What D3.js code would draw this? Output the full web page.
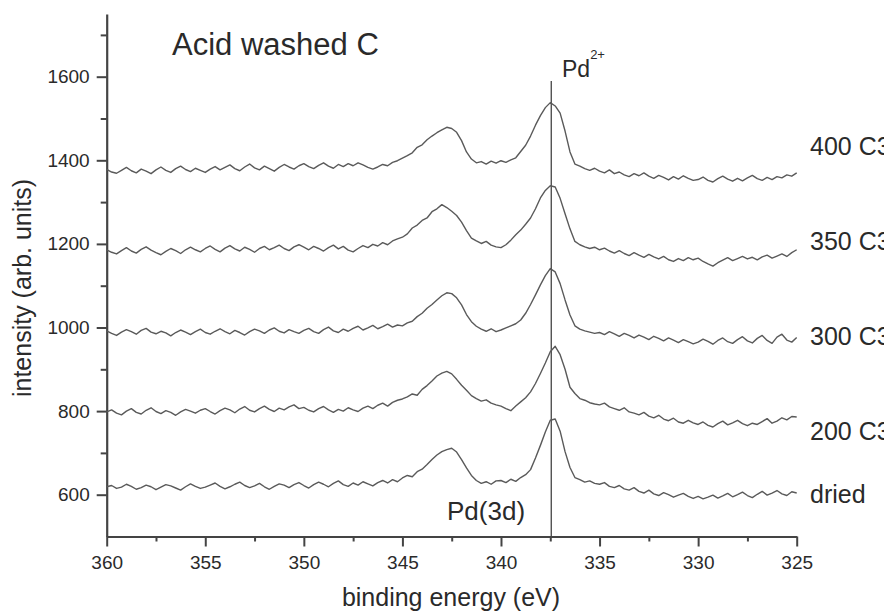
<!DOCTYPE html>
<html>
<head>
<meta charset="utf-8">
<script src="https://cdn.jsdelivr.net/npm/d3@7"></script>
<style>
  body { margin: 0; background: #fff; }
  text { font-family: "Liberation Sans", Arial, sans-serif; fill: #2a2a2a; }
</style>
</head>
<body>
<div id="chart"></div>
<script>
// binding energy grid, 360 -> 325 eV in 0.25 eV steps
var energies = d3.range(0, 141).map(i => 360 - i * 0.25);

// intensities, one row = 5 eV
var dried = [
  619, 622, 615, 618, 625, 620, 613, 617, 623, 619, 612, 618, 624, 621, 616, 611, 619, 626, 620, 615,
  618, 623, 628, 620, 614, 619, 625, 630, 622, 617, 621, 627, 619, 613, 620, 626, 623, 617, 624, 629,
  622, 616, 624, 630, 625, 619, 627, 633, 624, 620, 628, 623, 631, 626, 621, 629, 634, 628, 636, 631,
  640, 646, 643, 655, 661, 672, 684, 695, 703, 708, 711, 702, 684, 664, 646, 634, 627, 631, 625, 633,
  634, 629, 637, 632, 641, 648, 660, 688, 718, 750, 778, 781, 752, 703, 665, 641, 636, 630, 633, 627,
  625, 629, 620, 617, 622, 614, 611, 617, 608, 604, 611, 602, 598, 605, 600, 594, 599, 603, 596, 591,
  596, 590, 594, 599, 592, 597, 603, 595, 600, 606, 598, 593, 601, 608, 599, 604, 610, 602, 598, 607, 604
];
var c200 = [
  798, 803, 795, 791, 800, 806, 797, 793, 802, 808, 799, 794, 801, 797, 790, 798, 804, 800, 795, 802,
  806, 799, 793, 801, 807, 803, 796, 805, 811, 802, 798, 806, 812, 804, 799, 807, 803, 810, 815, 806,
  809, 802, 798, 806, 811, 803, 797, 804, 800, 808, 803, 799, 807, 812, 806, 814, 819, 812, 821, 826,
  829, 834, 841, 838, 852, 861, 872, 884, 891, 895, 889, 876, 862, 850, 837, 830, 824, 827, 819, 815,
  812, 806, 801, 812, 822, 832, 846, 866, 890, 915, 942, 955, 935, 900, 857, 842, 830, 826, 820, 817,
  815, 819, 810, 806, 802, 808, 798, 795, 791, 797, 788, 784, 790, 781, 777, 783, 774, 771, 778, 772,
  768, 774, 766, 762, 770, 776, 767, 772, 778, 770, 765, 771, 768, 775, 782, 771, 776, 784, 779, 787, 786
];
var c300 = [
  992, 986, 981, 989, 995, 990, 984, 993, 998, 989, 985, 991, 987, 980, 988, 994, 989, 983, 990, 996,
  988, 984, 991, 997, 990, 985, 993, 988, 982, 990, 996, 992, 986, 994, 999, 991, 987, 995, 990, 986,
  993, 998, 990, 986, 995, 1001, 992, 988, 996, 991, 998, 1003, 994, 999, 1005, 997, 1002, 1008, 1001, 1006,
  1004, 1011, 1015, 1026, 1034, 1046, 1055, 1066, 1076, 1083, 1081, 1071, 1054, 1031, 1014, 1003, 996, 991, 997, 990,
  994, 999, 1004, 1009, 1018, 1034, 1055, 1078, 1102, 1124, 1141, 1133, 1105, 1066, 1030, 1004, 996, 992, 989, 986,
  988, 983, 990, 985, 979, 986, 981, 975, 982, 977, 971, 979, 974, 968, 975, 970, 964, 971, 966, 961,
  965, 972, 967, 960, 969, 975, 966, 962, 971, 978, 968, 963, 974, 981, 969, 962, 977, 984, 970, 965, 976
];
var c350 = [
  1186, 1180, 1176, 1184, 1191, 1183, 1178, 1187, 1193, 1185, 1179, 1174, 1182, 1189, 1184, 1177, 1186, 1192, 1186, 1181,
  1189, 1195, 1187, 1181, 1190, 1196, 1188, 1183, 1192, 1187, 1180, 1189, 1194, 1186, 1191, 1197, 1189, 1184, 1193, 1198,
  1192, 1186, 1194, 1189, 1183, 1191, 1197, 1188, 1194, 1185, 1181, 1189, 1196, 1191, 1199, 1195, 1203, 1198, 1207, 1212,
  1216, 1224, 1238, 1245, 1256, 1262, 1277, 1284, 1294, 1287, 1278, 1268, 1252, 1232, 1214, 1207, 1201, 1206, 1197, 1193,
  1191, 1198, 1209, 1222, 1233, 1247, 1262, 1284, 1310, 1328, 1339, 1336, 1309, 1272, 1236, 1206, 1198, 1193, 1189, 1192,
  1186, 1190, 1183, 1178, 1184, 1177, 1172, 1179, 1173, 1168, 1175, 1169, 1164, 1170, 1162, 1158, 1165, 1160, 1167, 1162,
  1166, 1158, 1152, 1147, 1155, 1161, 1167, 1160, 1165, 1170, 1164, 1168, 1162, 1169, 1173, 1166, 1171, 1176, 1170, 1179, 1186
];
var c400 = [
  1378, 1372, 1369, 1376, 1383, 1375, 1370, 1379, 1374, 1368, 1377, 1384, 1376, 1371, 1380, 1386, 1378, 1373, 1381, 1376,
  1371, 1379, 1385, 1377, 1383, 1389, 1380, 1375, 1384, 1391, 1382, 1377, 1386, 1380, 1374, 1383, 1390, 1384, 1379, 1387,
  1392, 1385, 1380, 1388, 1394, 1386, 1381, 1390, 1385, 1392, 1387, 1394, 1389, 1383, 1379, 1384, 1390, 1387, 1395, 1399,
  1405, 1411, 1418, 1431, 1437, 1449, 1458, 1466, 1473, 1479, 1476, 1467, 1447, 1420, 1403, 1394, 1397, 1391, 1398, 1393,
  1399, 1395, 1401, 1406, 1421, 1436, 1458, 1484, 1507, 1526, 1538, 1530, 1513, 1470, 1420, 1391, 1386, 1380, 1376, 1381,
  1374, 1370, 1377, 1368, 1372, 1365, 1361, 1368, 1363, 1370, 1362, 1357, 1364, 1359, 1353, 1361, 1355, 1363, 1357, 1352,
  1354, 1360, 1352, 1348, 1356, 1362, 1355, 1350, 1357, 1351, 1358, 1364, 1356, 1352, 1359, 1354, 1361, 1358, 1365, 1362, 1370
];

var seriesList = [dried, c200, c300, c350, c400];
var seriesNames = ["dried", "200 C3", "300 C3", "350 C3", "400 C3"];
var nameLevels = [581, 730, 957, 1185, 1413];   // where each name sits (intensity)

var xTicks = [360, 355, 350, 345, 340, 335, 330, 325];
var xMinor = [357.5, 352.5, 347.5, 342.5, 337.5, 332.5, 327.5];
var yTicks = [600, 800, 1000, 1200, 1400, 1600];
var yMinor = [700, 900, 1100, 1300, 1500, 1700];

var pdEnergy = 337.45;

var width = 884, height = 616;

var svg = d3.select("#chart")
    .append("svg")
    .attr("width", width)
    .attr("height", height)
    .style("display", "block");

svg.append("rect").attr("width", width).attr("height", height).attr("fill", "#fff");

var x = d3.scaleLinear().domain([360, 325]).range([106.7, 796.7]);
var y = d3.scaleLinear().domain([500, 1750]).range([536.5, 14]);

// minor ticks first, then major axes on top
svg.append("g")
    .attr("transform", `translate(0, ${y(500)})`)
    .call(d3.axisBottom(x).tickValues(xMinor).tickSize(5).tickFormat(""))
    .call(g => g.select(".domain").remove());
svg.append("g")
    .attr("transform", `translate(${x(360)}, 0)`)
    .call(d3.axisLeft(y).tickValues(yMinor).tickSize(6).tickFormat(""))
    .call(g => g.select(".domain").remove());

var xAxis = svg.append("g")
    .attr("transform", `translate(0, ${y(500)})`)
    .call(d3.axisBottom(x).tickValues(xTicks).tickSize(10).tickSizeOuter(0).tickPadding(9).tickFormat(d3.format("d")));

var yAxis = svg.append("g")
    .attr("transform", `translate(${x(360)}, 0)`)
    .call(d3.axisLeft(y).tickValues(yTicks).tickSize(10).tickSizeOuter(0).tickPadding(7).tickFormat(d3.format("d")));

svg.selectAll(".tick line").attr("stroke", "#444").attr("stroke-width", 2);
svg.selectAll(".domain").attr("stroke", "#444").attr("stroke-width", 2.2);
svg.selectAll(".tick text")
    .attr("font-size", 19)
    .attr("font-family", "Liberation Sans, Arial, sans-serif")
    .attr("fill", "#333");

// Pd2+ marker line
svg.append("line")
    .attr("x1", x(pdEnergy)).attr("x2", x(pdEnergy))
    .attr("y1", y(1590)).attr("y2", y(500))
    .attr("stroke", "#444")
    .attr("stroke-width", 1.3);

var line = d3.line()
    .x((d, i) => x(energies[i]))
    .y(d => y(d));

svg.selectAll(".spectrum")
    .data(seriesList)
    .enter()
    .append("path")
    .attr("class", "spectrum")
    .attr("fill", "none")
    .attr("stroke", "#5a5a5a")
    .attr("stroke-width", 1.4)
    .attr("stroke-linejoin", "round")
    .attr("d", line);

svg.selectAll(".sname")
    .data(seriesNames)
    .enter()
    .append("text")
    .attr("class", "sname")
    .attr("x", 810)
    .attr("y", (d, i) => y(nameLevels[i]))
    .attr("font-size", 25)
    .text(d => d);

// titles and annotations
svg.append("text")
    .attr("x", 172).attr("y", 55)
    .attr("font-size", 31)
    .text("Acid washed C");

var pd = svg.append("text")
    .attr("x", 562).attr("y", 77)
    .attr("font-size", 23);
pd.append("tspan").text("Pd");
pd.append("tspan").attr("dy", -18).attr("font-size", 13).text("2+");

svg.append("text")
    .attr("x", 447).attr("y", 520)
    .attr("font-size", 26)
    .text("Pd(3d)");

svg.append("text")
    .attr("x", 451).attr("y", 606)
    .attr("text-anchor", "middle")
    .attr("font-size", 25)
    .text("binding energy (eV)");

svg.append("text")
    .attr("transform", "translate(31, 288) rotate(-90)")
    .attr("text-anchor", "middle")
    .attr("font-size", 25)
    .text("intensity (arb. units)");
</script>
</body>
</html>
